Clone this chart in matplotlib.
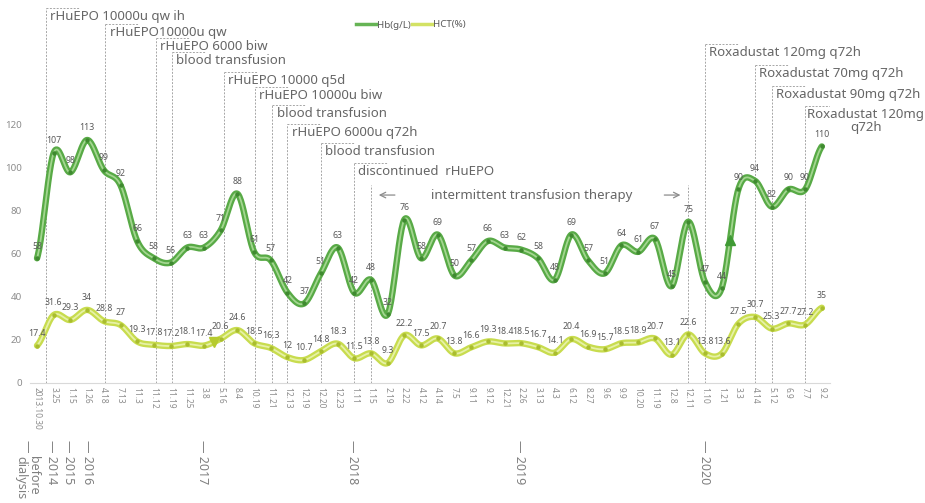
import numpy as np
import matplotlib
matplotlib.use('Agg')
import matplotlib.pyplot as plt
from matplotlib.lines import Line2D
from matplotlib.transforms import blended_transform_factory

plt.rcParams['font.family'] = ['Noto Sans', 'DejaVu Sans']

dates = ['2013.10.30', '3.25', '1.15', '1.26', '4.18', '7.13', '11.3', '11.12',
         '11.19', '11.25', '3.8', '5.16', '8.4', '10.19', '11.21', '12.13',
         '12.19', '12.20', '12.23', '1.11', '1.15', '2.19', '2.22', '4.12',
         '4.14', '7.5', '9.11', '9.12', '12.21', '2.26', '3.13', '4.3',
         '6.12', '8.27', '9.6', '9.9', '10.20', '11.19', '12.8', '12.11',
         '1.10', '1.21', '3.3', '4.14', '5.12', '6.9', '7.7', '9.2']
hb = [58, 107, 98, 113, 99, 92, 66, 58, 56, 63, 63, 71, 88, 61, 57, 42,
      37, 51, 63, 42, 48, 32, 76, 58, 69, 50, 57, 66, 63, 62, 58, 48,
      69, 57, 51, 64, 61, 67, 45, 75, 47, 44, 90, 94, 82, 90, 90, 110]
hct = [17.4, 31.6, 29.3, 34, 28.8, 27, 19.3, 17.8, 17.2, 18.1, 17.4, 20.6,
       24.6, 18.5, 16.3, 12, 10.7, 14.8, 18.3, 11.5, 13.8, 9.3, 22.2, 17.5,
       20.7, 13.8, 16.6, 19.3, 18.4, 18.5, 16.7, 14.1, 20.4, 16.9, 15.7, 18.5,
       18.9, 20.7, 13.1, 22.6, 13.8, 13.6, 27.5, 30.7, 25.3, 27.7, 27.2, 35]

years = ['2014', '2015', '2016', '2017', '2018', '2019', '2020']
year_pos = [0.85, 1.9, 3.0, 9.9, 18.9, 28.9, 40.0]

# callouts: (x position, top of leader, text)
callouts = [
    (0.55, 174.4, 'rHuEPO 10000u qw ih'),
    (4.1, 167.0, 'rHuEPO10000u qw'),
    (7.1, 160.5, 'rHuEPO 6000 biw'),
    (8.1, 154.0, 'blood transfusion'),
    (11.2, 144.7, 'rHuEPO 10000 q5d'),
    (13.05, 137.7, 'rHuEPO 10000u biw'),
    (14.1, 129.3, 'blood transfusion'),
    (15.0, 120.5, 'rHuEPO 6000u q72h'),
    (17.0, 111.6, 'blood transfusion'),
    (19.0, 102.3, 'discontinued  rHuEPO'),
    (40.0, 157.7, 'Roxadustat 120mg q72h'),
    (43.0, 148.0, 'Roxadustat 70mg q72h'),
    (44.0, 138.0, 'Roxadustat 90mg q72h'),
    (46.0, 128.8, 'Roxadustat 120mg\nq72h'),
]


def smooth(y, n=24):
    y = np.asarray(y, float)
    p = np.concatenate([[y[0]], y, [y[-1]]])
    t = np.linspace(0, 1, n, endpoint=False)
    xs, ys = [], []
    for k in range(len(y) - 1):
        p0, p1, p2, p3 = p[k], p[k + 1], p[k + 2], p[k + 3]
        seg = 0.5 * (2 * p1 + (-p0 + p2) * t + (2 * p0 - 5 * p1 + 4 * p2 - p3) * t ** 2
                     + (-p0 + 3 * p1 - 3 * p2 + p3) * t ** 3)
        xs.append(k + t)
        ys.append(seg)
    xs.append([len(y) - 1])
    ys.append([y[-1]])
    return np.concatenate(xs), np.concatenate(ys)


fig = plt.figure(figsize=(9.25, 5.03), dpi=100)
ax = fig.add_axes([30 / 925, 120 / 503, 800 / 925, 383 / 503])
x = np.arange(len(dates))

sx, sy = smooth(hb)
ax.plot(sx, sy, color='#58aa46', lw=4.6, solid_capstyle='round', zorder=3)
ax.plot(sx, sy, color='#a3d690', lw=1.3, zorder=4)
ax.plot(x, hb, 'o', ms=2.2, color='#3f8a30', zorder=5)

cx, cy = smooth(hct)
ax.plot(cx, cy, color='#c8dc4e', lw=4.6, solid_capstyle='round', zorder=3)
ax.plot(cx, cy, color='#e6f1a6', lw=1.3, zorder=4)
ax.plot(x, hct, 'o', ms=2.2, color='#a9bd2e', zorder=5)

# small triangle marks on the curves
ax.plot(41.5, np.interp(41.5, sx, sy), '^', ms=7, color='#3f9a35', zorder=6)
ax.plot(10.6, np.interp(10.6, cx, cy), 'v', ms=7, color='#b6cb2e', zorder=6)

for i, v in enumerate(hb):
    ax.annotate(f'{v:g}', (i, v), xytext=(0, 5.5), textcoords='offset points',
                ha='center', va='bottom', fontsize=6.3, color='#595959', zorder=7)
for i, v in enumerate(hct):
    ax.annotate(f'{v:g}', (i, v), xytext=(0, 5.5), textcoords='offset points',
                ha='center', va='bottom', fontsize=6.3, color='#595959', zorder=7)

dash = dict(color='#a6a6a6', lw=0.7, ls=(0, (2, 1.5)), zorder=1)
for xi, top, txt in callouts:
    ax.plot([xi, xi], [0, top], **dash)
    ax.plot([xi, xi + 2], [top, top], **dash)
    multi = '\n' in txt
    ax.annotate(txt, (xi, top), xytext=(1.5 if multi else 3, -1.5),
                textcoords='offset points',
                ha='left', va='top', fontsize=9.5, color='#666666',
                multialignment='center' if multi else 'left', linespacing=1.0,
                annotation_clip=False)

# intermittent transfusion therapy bracket
ax.plot([20, 20], [0, 92], **dash)
ax.plot([39, 39], [0, 92], **dash)
arr = dict(arrowstyle='->', color='#8c8c8c', lw=0.9)
ax.annotate('', xy=(20.3, 87.4), xytext=(21.6, 87.4), arrowprops=arr)
ax.annotate('', xy=(38.7, 87.4), xytext=(37.4, 87.4), arrowprops=arr)
ax.text(29.65, 87.4, 'intermittent transfusion therapy', ha='center', va='center',
        fontsize=9.5, color='#666666')

ax.set_xlim(-0.42, 47.49)
ax.set_ylim(0, 178.1)
ax.set_xticks(x)
ax.set_xticklabels(dates, rotation=270, fontsize=6, color='#8c8c8c')
ax.set_yticks(range(0, 121, 20))
ax.tick_params(axis='y', length=0, labelsize=7, labelcolor='#8c8c8c', pad=6)
ax.tick_params(axis='x', length=0, pad=3)
for s in ['top', 'right', 'left']:
    ax.spines[s].set_visible(False)
ax.spines['bottom'].set_color('#d9d9d9')
ax.spines['bottom'].set_linewidth(0.8)

# year group labels
tr = blended_transform_factory(ax.transData, fig.transFigure)
for name, pos in zip(years, year_pos):
    ax.text(pos, 1 - 440 / 503, '— ' + name, transform=tr, rotation=270,
            ha='center', va='top', fontsize=9, color='#808080')
ax.text(-0.6, 1 - 440 / 503, '—', transform=tr, rotation=270,
        ha='center', va='top', fontsize=9, color='#808080')
ax.text(-0.6, 1 - 456 / 503, 'before\ndialysis', transform=tr, rotation=270,
        ha='center', va='top', fontsize=9, color='#808080',
        multialignment='left', linespacing=0.95)

handles = [Line2D([], [], color='#66b455', lw=2.5),
           Line2D([], [], color='#d3e264', lw=2.5)]
fig.legend(handles, ['Hb(g/L)', 'HCT(%)'], loc='center',
           bbox_to_anchor=(411 / 925, 1 - 25 / 503), ncol=2, frameon=False,
           fontsize=7, handlelength=2.0, handletextpad=0.15, columnspacing=0.15,
           labelcolor='#595959')

fig.savefig('out.png', dpi=100)
